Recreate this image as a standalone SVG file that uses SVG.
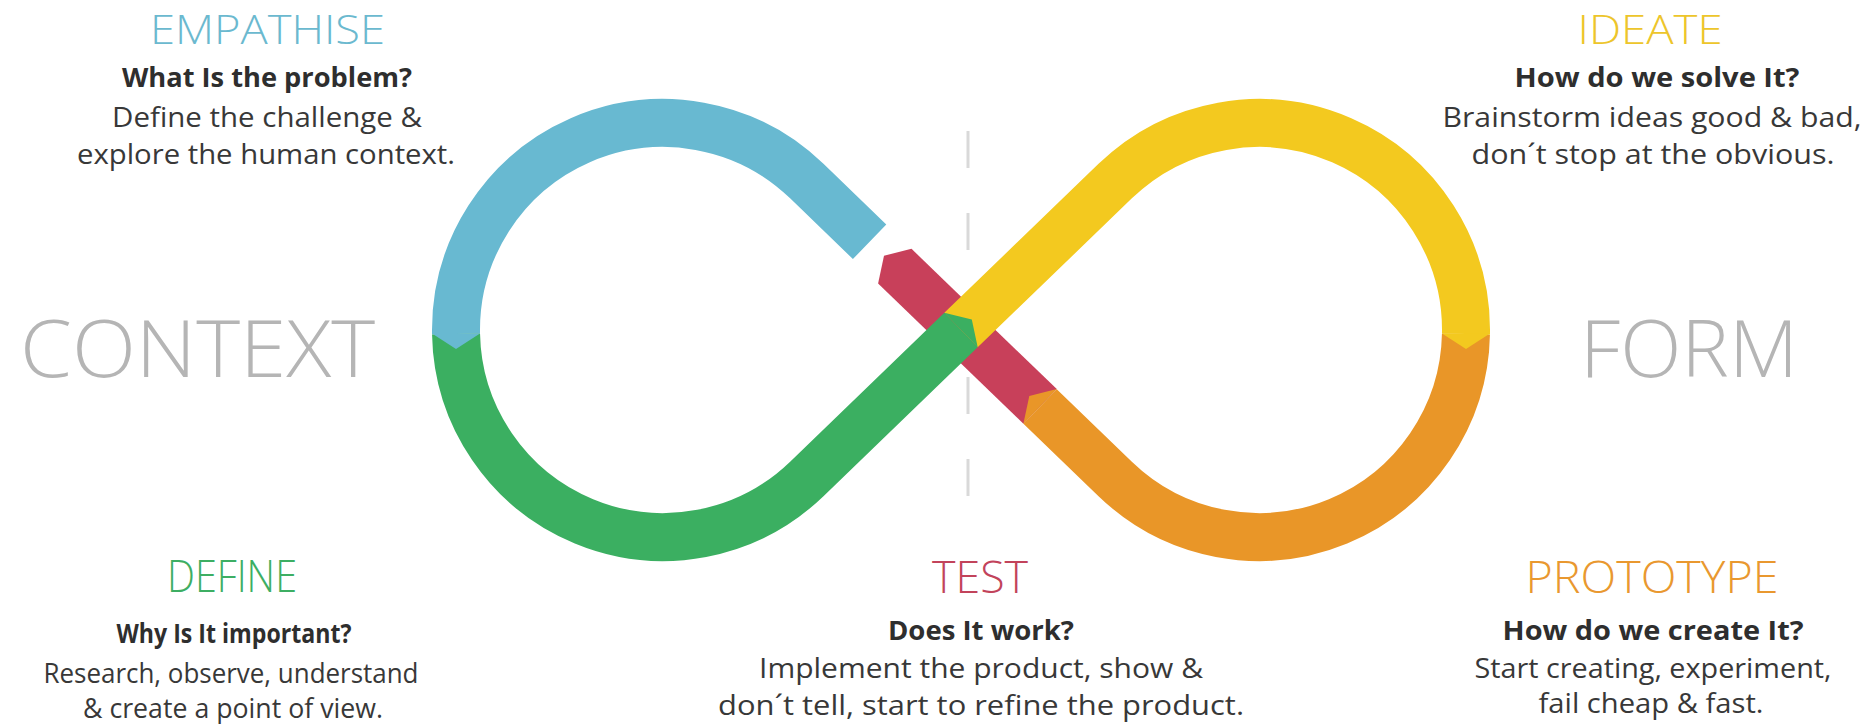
<svg xmlns="http://www.w3.org/2000/svg" width="1873" height="724" viewBox="0 0 1873 724">
<style>
.t{font-family:"Open Sans","Noto Sans","Liberation Sans",sans-serif;text-anchor:middle}
.title{font-size:44px;font-weight:300}
.top{font-size:41px}
.q{font-size:26px;font-weight:700;fill:#2e2e2e}
.b{font-size:27px;font-weight:400;fill:#383838}
.big{font-size:80px;font-weight:300;fill:#b5b5b5}
.band{fill:none;stroke-width:48;stroke-linecap:butt;stroke-linejoin:round}
</style>
<rect width="1873" height="724" fill="#ffffff"/>
<line x1="968" y1="131" x2="968" y2="496" stroke="#d9d9d9" stroke-width="3" stroke-dasharray="37 45"/>
<g id="connectors">
  <polygon fill="#c8405a" points="911.5,248.8 884.0,255.7 878.1,283.4 1023.4,423.7 1056.8,389.1"/>
  <path class="band" stroke="#68b9d1" d="M869.6,241.8 L806.8,181.1 A207,207 0 0 0 456.04,334"/>
  <path class="band" stroke="#e99628" d="M1465.96,334 A207,207 0 0 1 1115.2,478.9 L1040.1,406.4"/>
  <polygon fill="#e99628" points="1023.4,423.7 1029.3,396.0 1056.8,389.1"/>
  <path class="band" stroke="#f3c91f" d="M961,330 L1115.2,181.1 A207,207 0 0 1 1465.96,334"/>
  <polygon fill="#f3c91f" points="1442,333.5 1490,333.5 1466,349"/>
  <path class="band" stroke="#3baf61" d="M456.04,334 A207,207 0 0 0 806.8,478.9 L961,330"/>
  <polygon fill="#3baf61" points="977.7,347.3 971.8,319.6 944.3,312.7"/>
  <polygon fill="#68b9d1" points="432,333.5 480,333.5 456,349"/>
</g>
<g id="empathise">
  <text class="t title top" x="267.5" y="44" fill="#6bb9cf" textLength="235" lengthAdjust="spacingAndGlyphs">EMPATHISE</text>
  <text class="t q" x="267" y="87" textLength="290" lengthAdjust="spacingAndGlyphs">What Is the problem?</text>
  <text class="t b" x="267" y="127" textLength="310" lengthAdjust="spacingAndGlyphs">Define the challenge &amp;</text>
  <text class="t b" x="266" y="164" textLength="378" lengthAdjust="spacingAndGlyphs">explore the human context.</text>
</g>
<g id="ideate">
  <text class="t title top" x="1650" y="44" fill="#edc52b" textLength="145" lengthAdjust="spacingAndGlyphs">IDEATE</text>
  <text class="t q" x="1657" y="87" textLength="285" lengthAdjust="spacingAndGlyphs">How do we solve It?</text>
  <text class="t b" x="1652" y="127" textLength="419" lengthAdjust="spacingAndGlyphs">Brainstorm ideas good &amp; bad,</text>
  <text class="t b" x="1653" y="164" textLength="363" lengthAdjust="spacingAndGlyphs">don´t stop at the obvious.</text>
</g>
<g id="define">
  <text class="t title" x="232" y="592" fill="#3dae63" textLength="130" lengthAdjust="spacingAndGlyphs">DEFINE</text>
  <text class="t q" x="234" y="643" textLength="235" lengthAdjust="spacingAndGlyphs">Why Is It important?</text>
  <text class="t b" x="231" y="683" textLength="375" lengthAdjust="spacingAndGlyphs">Research, observe, understand</text>
  <text class="t b" x="233" y="718" textLength="300" lengthAdjust="spacingAndGlyphs">&amp; create a point of view.</text>
</g>
<g id="test">
  <text class="t title" x="980" y="593" fill="#c2435b" textLength="96" lengthAdjust="spacingAndGlyphs">TEST</text>
  <text class="t q" x="981" y="640" textLength="186" lengthAdjust="spacingAndGlyphs">Does It work?</text>
  <text class="t b" x="981" y="678" textLength="444" lengthAdjust="spacingAndGlyphs">Implement the product, show &amp;</text>
  <text class="t b" x="981" y="715" textLength="526" lengthAdjust="spacingAndGlyphs">don´t tell, start to refine the product.</text>
</g>
<g id="prototype">
  <text class="t title" x="1652" y="593" fill="#e9982f" textLength="253" lengthAdjust="spacingAndGlyphs">PROTOTYPE</text>
  <text class="t q" x="1653" y="640" textLength="301" lengthAdjust="spacingAndGlyphs">How do we create It?</text>
  <text class="t b" x="1653" y="678" textLength="357" lengthAdjust="spacingAndGlyphs">Start creating, experiment,</text>
  <text class="t b" x="1651" y="713" textLength="225" lengthAdjust="spacingAndGlyphs">fail cheap &amp; fast.</text>
</g>
<g id="context">
  <text class="t big" x="197.5" y="377" textLength="355" lengthAdjust="spacingAndGlyphs">CONTEXT</text>
</g>
<g id="form">
  <text class="t big" x="1689" y="377" textLength="218" lengthAdjust="spacingAndGlyphs">FORM</text>
</g>
</svg>
